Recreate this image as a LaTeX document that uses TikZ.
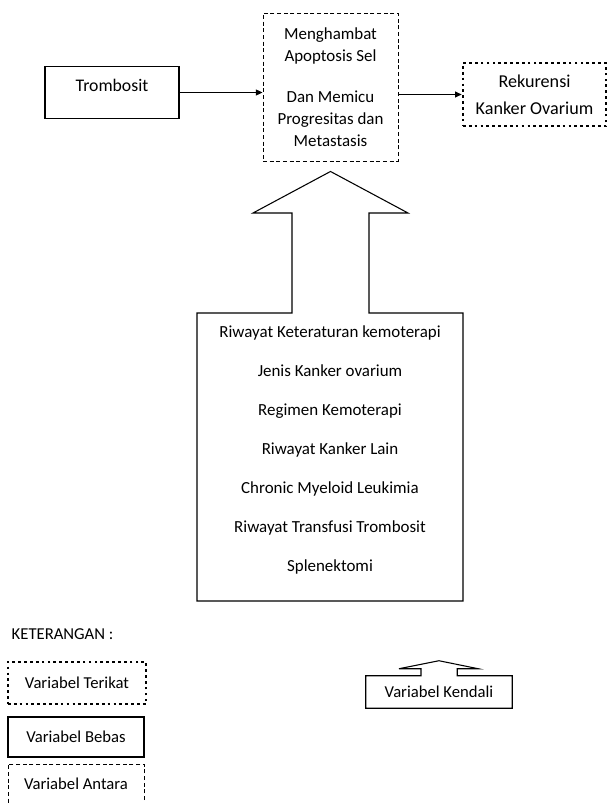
\documentclass[tikz,border=0pt]{standalone}
\usepackage{fontspec}
\setmainfont{Carlito}
\usetikzlibrary{arrows.meta,positioning,calc}

\tikzset{
  varbox/.style={rectangle,align=center,inner sep=0pt},
  bebasline/.style={draw,line width=0.8pt},
  antaraline/.style={draw,line width=0.7pt,dash pattern=on 3pt off 2pt},
  terikatline/.style={draw,line width=2pt,dash pattern=on 2pt off 2.4pt},
  panah/.style={-{Triangle[length=5pt,width=4.5pt]},line width=0.7pt},
  legendfont/.style={font=\fontsize{12.5}{15}\selectfont}
}

\begin{document}
\begin{tikzpicture}[x=0.75pt,y=-0.75pt]
  \useasboundingbox (0,0) rectangle (609,803);

  % alur utama
  \node[varbox,bebasline,minimum width=100.5pt,text height=19pt,text depth=20.5pt,
        font=\fontsize{13.3}{16}\selectfont] (trombosit) at (112,92.5) {Trombosit};
  \node[varbox,antaraline,minimum width=101.25pt,minimum height=111pt,
        font=\fontsize{12.7}{16.5}\selectfont] (antara) at (330.5,87)
        {Menghambat\\Apoptosis Sel\\[14pt]Dan Memicu\\Progresitas dan\\Metastasis};
  \node[varbox,terikatline,minimum width=107.25pt,minimum height=47.25pt,
        font=\fontsize{13.6}{20.25}\selectfont] (rekurensi) at (534.5,94.5)
        {Rekurensi\\Kanker Ovarium};

  \draw[panah] (trombosit.east) -- (trombosit.east -| antara.west);
  \draw[panah] (rekurensi.west -| antara.east) -- (rekurensi.west);

  % variabel kendali
  \node[varbox,font=\fontsize{12.7}{29.25}\selectfont] (kendali) at (330,450)
        {Riwayat Keteraturan kemoterapi\\Jenis Kanker ovarium\\Regimen Kemoterapi\\
         Riwayat Kanker Lain\\Chronic Myeloid Leukimia\\Riwayat Transfusi Trombosit\\Splenektomi};
  \draw[line width=0.8pt] ($(antara.south)+(0,10)$) -- (408,213) -- (369,213) -- (369,313)
        -- (463,313) -- (463,601) -- (197,601) -- (197,313) -- (292,313) -- (292,213)
        -- (253,213) -- cycle;

  % keterangan
  \node[anchor=west,legendfont] (keterangan) at (7,634) {KETERANGAN :};
  \node[varbox,terikatline,legendfont,minimum width=103.5pt,minimum height=31.5pt]
        (lgterikat) at (77,683) {Variabel Terikat};
  \node[varbox,bebasline,legendfont,minimum width=102pt,minimum height=30pt]
        (lgbebas) at (76,737) {Variabel Bebas};
  \node[varbox,antaraline,legendfont,minimum width=102pt,minimum height=30pt]
        (lgantara) at (76,784) {Variabel Antara};
  \node[varbox,legendfont,minimum width=109.5pt,minimum height=24pt]
        (lgkendali) at (439,692) {Variabel Kendali};
  \draw[line width=0.8pt] (lgkendali.north) ++(-18,0) -- (lgkendali.north west)
        -- (lgkendali.south west) -- (lgkendali.south east) -- (lgkendali.north east)
        -- ++(-55,0) -- ++(0,-7) -- ++(21,0) -- ($(lgkendali.north)+(0,-15)$)
        -- ++(-40,8) -- ++(22,0) -- cycle;
\end{tikzpicture}
\end{document}
